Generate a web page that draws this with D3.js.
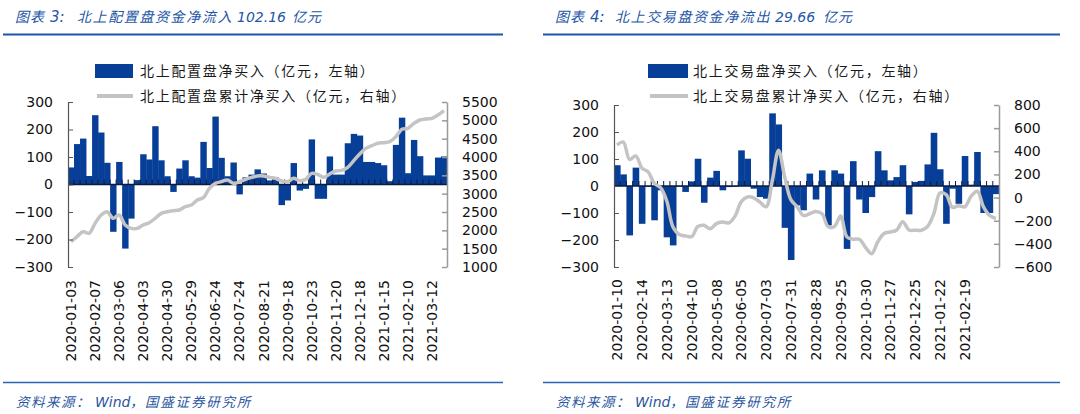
<!DOCTYPE html>
<html><head><meta charset="utf-8">
<script src="https://cdn.jsdelivr.net/npm/d3@7"></script>
<style>
body{margin:0;background:#fff;}
svg{display:block;}
</style>
</head><body>
<svg id="c" width="1080" height="414"></svg>
<script>
// ---------- DATA ----------
const datesA = ["2020-01-03","2020-01-10","2020-01-17","2020-01-23","2020-02-07","2020-02-14","2020-02-21","2020-02-28","2020-03-06","2020-03-13","2020-03-20","2020-03-27","2020-04-03","2020-04-10","2020-04-17","2020-04-24","2020-04-30","2020-05-08","2020-05-15","2020-05-22","2020-05-29","2020-06-05","2020-06-12","2020-06-19","2020-06-24","2020-07-03","2020-07-10","2020-07-17","2020-07-24","2020-07-31","2020-08-07","2020-08-14","2020-08-21","2020-08-28","2020-09-04","2020-09-11","2020-09-18","2020-09-25","2020-10-09","2020-10-16","2020-10-23","2020-10-30","2020-11-06","2020-11-13","2020-11-20","2020-11-27","2020-12-04","2020-12-11","2020-12-18","2020-12-25","2020-12-31","2021-01-08","2021-01-15","2021-01-22","2021-01-29","2021-02-05","2021-02-10","2021-02-19","2021-02-26","2021-03-05","2021-03-12","2021-03-19","2021-03-26"];
const netA = [62,147,167,31,252,189,79,-172,82,-233,-124,16,110,91,212,88,30,-27,58,88,30,25,155,60,247,97,30,80,-36,26,36,55,40,15,25,-75,-58,78,-22,-16,164,-52,-52,102,36,36,150,184,178,82,82,78,70,12,144,243,41,162,103,33,33,98,102];
const cumA = [1690,1826,1963,1920,2190,2418,2509,2327,2418,2145,2054,2054,2145,2209,2327,2463,2509,2536,2554,2645,2690,2827,2890,3145,3282,3327,3372,3282,3327,3391,3445,3482,3482,3445,3418,3345,3327,3418,3354,3390,3554,3527,3445,3536,3618,3636,3718,3900,4082,4236,4309,4373,4391,4418,4554,4755,4782,4918,5009,5036,5055,5145,5264];
const ticksA = ["2020-01-03","2020-02-07","2020-03-06","2020-04-03","2020-04-30","2020-05-29","2020-06-24","2020-07-24","2020-08-21","2020-09-18","2020-10-23","2020-11-20","2020-12-18","2021-01-15","2021-02-10","2021-03-12"];

const datesB = ["2020-01-10","2020-01-17","2020-01-23","2020-02-07","2020-02-14","2020-02-21","2020-02-28","2020-03-06","2020-03-13","2020-03-20","2020-03-27","2020-04-03","2020-04-10","2020-04-17","2020-04-24","2020-04-30","2020-05-08","2020-05-15","2020-05-22","2020-05-29","2020-06-05","2020-06-12","2020-06-19","2020-06-24","2020-07-03","2020-07-10","2020-07-17","2020-07-24","2020-07-31","2020-08-07","2020-08-14","2020-08-21","2020-08-28","2020-09-04","2020-09-11","2020-09-18","2020-09-25","2020-10-09","2020-10-16","2020-10-23","2020-10-30","2020-11-06","2020-11-13","2020-11-20","2020-11-27","2020-12-04","2020-12-11","2020-12-18","2020-12-25","2020-12-31","2021-01-08","2021-01-15","2021-01-22","2021-01-29","2021-02-05","2021-02-10","2021-02-19","2021-02-26","2021-03-05","2021-03-12","2021-03-19","2021-03-26"];
const netB = [77,43,-183,68,-140,-3,-127,-16,-190,-220,-3,-22,17,101,-62,31,56,-16,-4,-3,132,101,-10,-41,-47,269,228,-155,-274,-72,-90,46,-50,58,-146,58,46,-233,92,-50,-100,-41,129,58,21,33,77,-105,15,19,80,197,62,-140,-10,-66,111,5,126,-100,-100,-30];
const cumB = [454,480,330,360,255,222,122,85,-30,-255,-320,-331,-338,-250,-240,-270,-225,-212,-218,-160,-35,5,-2,-40,-80,150,410,175,-20,-80,-155,-140,-120,-140,-253,-250,-160,-340,-360,-360,-430,-485,-380,-311,-297,-282,-210,-280,-282,-282,-250,-140,40,25,-85,-70,-80,10,55,-80,-155,-181];
const ticksB = ["2020-01-10","2020-02-14","2020-03-13","2020-04-10","2020-05-08","2020-06-05","2020-07-03","2020-07-31","2020-08-28","2020-09-25","2020-10-30","2020-11-27","2020-12-25","2021-01-22","2021-02-19"];

const leftTicksA = [-300,-200,-100,0,100,200,300];
const rightTicksA = [1000,1500,2000,2500,3000,3500,4000,4500,5000,5500];
const leftTicksB = [-300,-200,-100,0,100,200,300];
const rightTicksB = [-600,-400,-200,0,200,400,600,800];

// ---------- STYLE ----------
const BAR = "#073f98", LINE = "#c4c4c4", TITLE = "#2456a6", RULE = "#1f55a8";
const NUMFONT = "'DejaVu Sans', Verdana, sans-serif";
const CJK = "'Noto Sans CJK SC', sans-serif";

const svg = d3.select("#c");
svg.append("rect").attr("width",1080).attr("height",414).attr("fill","#fff");

function panel(o){
  const g = svg.append("g");
  const x = d3.scaleBand().domain(o.dates).range([o.x0, o.x1]).padding(0);
  const yL = d3.scaleLinear().domain(o.lDom).range([o.yb, o.yt]);
  const yR = d3.scaleLinear().domain(o.rDom).range([o.yb, o.yt]);
  const bw = x.bandwidth();

  // bars
  g.append("g").selectAll("rect").data(o.net).join("rect")
    .attr("x",(d,i)=>x(o.dates[i]))
    .attr("width",bw+0.4)
    .attr("y",d=>Math.min(yL(d),yL(0)))
    .attr("height",d=>Math.abs(yL(d)-yL(0)))
    .attr("fill",BAR);

  // zero axis + category ticks
  const y0 = yL(0);
  g.append("line").attr("x1",o.x0).attr("x2",o.x1).attr("y1",y0).attr("y2",y0)
    .attr("stroke","#0d1a3a").attr("stroke-width",1.3);
  g.append("g").selectAll("line").data(o.dates.slice(1)).join("line")
    .attr("x1",d=>x(d)).attr("x2",d=>x(d)).attr("y1",y0).attr("y2",y0-5)
    .attr("stroke","#0d1a3a").attr("stroke-width",1);

  // cumulative line
  const line = d3.line().x((d,i)=>x(o.dates[i])+bw/2).y(d=>yR(d)).curve(d3.curveCatmullRom.alpha(0.5));
  g.append("path").datum(o.cum).attr("d",line).attr("fill","none")
    .attr("stroke",LINE).attr("stroke-width",3.5).attr("stroke-linejoin","round");

  // left axis
  const la = g.append("g").attr("transform",`translate(${o.x0},0)`)
    .call(d3.axisLeft(yL).tickValues(o.lTicks).tickSizeInner(-5).tickSizeOuter(0).tickPadding(15).tickFormat(d3.format("d")));
  la.select(".domain").attr("stroke","#555").attr("stroke-width",1.2);
  la.selectAll(".tick line").attr("stroke","#555");
  la.selectAll("text").attr("font-family",NUMFONT).attr("font-size",14).attr("fill","#111");

  // right axis
  const ra = g.append("g").attr("transform",`translate(${o.x1},0)`)
    .call(d3.axisRight(yR).tickValues(o.rTicks).tickSizeInner(-5).tickSizeOuter(0).tickPadding(15).tickFormat(d3.format("d")));
  ra.select(".domain").attr("stroke","#9a9a9a").attr("stroke-width",1.5);
  ra.selectAll(".tick line").attr("stroke","#9a9a9a").attr("stroke-width",1.5);
  ra.selectAll("text").attr("font-family",NUMFONT).attr("font-size",14).attr("fill","#111");

  // x labels
  const xa = g.append("g").attr("transform",`translate(0,${o.labY})`)
    .call(d3.axisBottom(x).tickValues(o.ticks).tickSize(0).tickPadding(0));
  xa.select(".domain").remove();
  xa.selectAll("text").attr("transform","rotate(-90)").attr("x",0).attr("y",0)
    .attr("dy","0.36em").attr("text-anchor","end")
    .attr("font-family",NUMFONT).attr("font-size",14).attr("fill","#111");

  // legend
  const lg = g.append("g");
  lg.append("rect").attr("x",o.legX).attr("y",64).attr("width",o.legW).attr("height",14).attr("fill",BAR);
  lg.append("line").attr("x1",o.legX+2).attr("x2",o.legX+o.legW).attr("y1",96).attr("y2",96)
    .attr("stroke",LINE).attr("stroke-width",4);
  lg.append("text").attr("x",o.legTX).attr("y",71).attr("dy","0.35em").text(o.leg1);
  lg.append("text").attr("x",o.legTX).attr("y",96).attr("dy","0.35em").text(o.leg2);
  lg.selectAll("text").attr("font-family",CJK).attr("font-size",14).attr("letter-spacing","1.7px").attr("fill","#1a1a1a");

  // title
  const t = g.append("text").attr("y",17).attr("dy","0.35em").attr("font-style","italic")
    .attr("fill",TITLE).attr("font-size",14);
  t.append("tspan").attr("x",o.px+15).attr("font-family",CJK).attr("letter-spacing","1px").text("图表");
  t.append("tspan").attr("x",o.px+50).attr("font-family",NUMFONT).attr("font-size",15).text(o.tNum+":");
  t.append("tspan").attr("x",o.px+o.tX1).attr("font-family",CJK).attr("letter-spacing","1.6px").text(o.tMain);
  t.append("tspan").attr("x",o.px+o.tX2).attr("font-family",NUMFONT).attr("font-size",14).text(o.tVal);
  t.append("tspan").attr("x",o.px+o.tX3).attr("font-family",CJK).attr("letter-spacing","1px").text("亿元");

  // rules
  g.append("line").attr("x1",o.px+3).attr("x2",o.px+o.ruleEnd).attr("y1",34.5).attr("y2",34.5)
    .attr("stroke",RULE).attr("stroke-width",2.2);
  g.append("line").attr("x1",o.px+3).attr("x2",o.px+o.ruleEnd).attr("y1",382.5).attr("y2",382.5)
    .attr("stroke","#2d63b3").attr("stroke-width",1.3);

  // source
  const s = g.append("text").attr("y",402).attr("dy","0.35em").attr("font-style","italic")
    .attr("fill","#2b56a0").attr("font-size",13.5);
  s.append("tspan").attr("x",o.px+16).attr("font-family",CJK).attr("letter-spacing","1.5px").text("资料来源：");
  s.append("tspan").attr("x",o.px+95).attr("font-family",NUMFONT).attr("font-size",14).text("Wind");
  s.append("tspan").attr("x",o.px+130).attr("font-family",CJK).text("，");
  s.append("tspan").attr("x",o.px+145).attr("font-family",CJK).attr("letter-spacing","1.8px").text("国盛证券研究所");
}

panel({px:0, dates:datesA, net:netA, cum:cumA, ticks:ticksA,
  x0:68, x1:447, yt:102, yb:267, lDom:[-300,300], rDom:[1000,5500],
  lTicks:leftTicksA, rTicks:rightTicksA, labY:280,
  legX:95, legW:38, legTX:140,
  leg1:"北上配置盘净买入（亿元，左轴）", leg2:"北上配置盘累计净买入（亿元，右轴）",
  tNum:"3", tMain:"北上配置盘资金净流入", tVal:"102.16", tX1:77, tX2:237, tX3:292, ruleEnd:503});

panel({px:540, dates:datesB, net:netB, cum:cumB, ticks:ticksB,
  x0:614, x1:999, yt:105, yb:267, lDom:[-300,300], rDom:[-600,800],
  lTicks:leftTicksB, rTicks:rightTicksB, labY:279,
  legX:648, legW:40, legTX:693,
  leg1:"北上交易盘净买入（亿元，左轴）", leg2:"北上交易盘累计净买入（亿元，右轴）",
  tNum:"4", tMain:"北上交易盘资金净流出", tVal:"29.66", tX1:75, tX2:235, tX3:283, ruleEnd:520});
</script>
</body></html>
